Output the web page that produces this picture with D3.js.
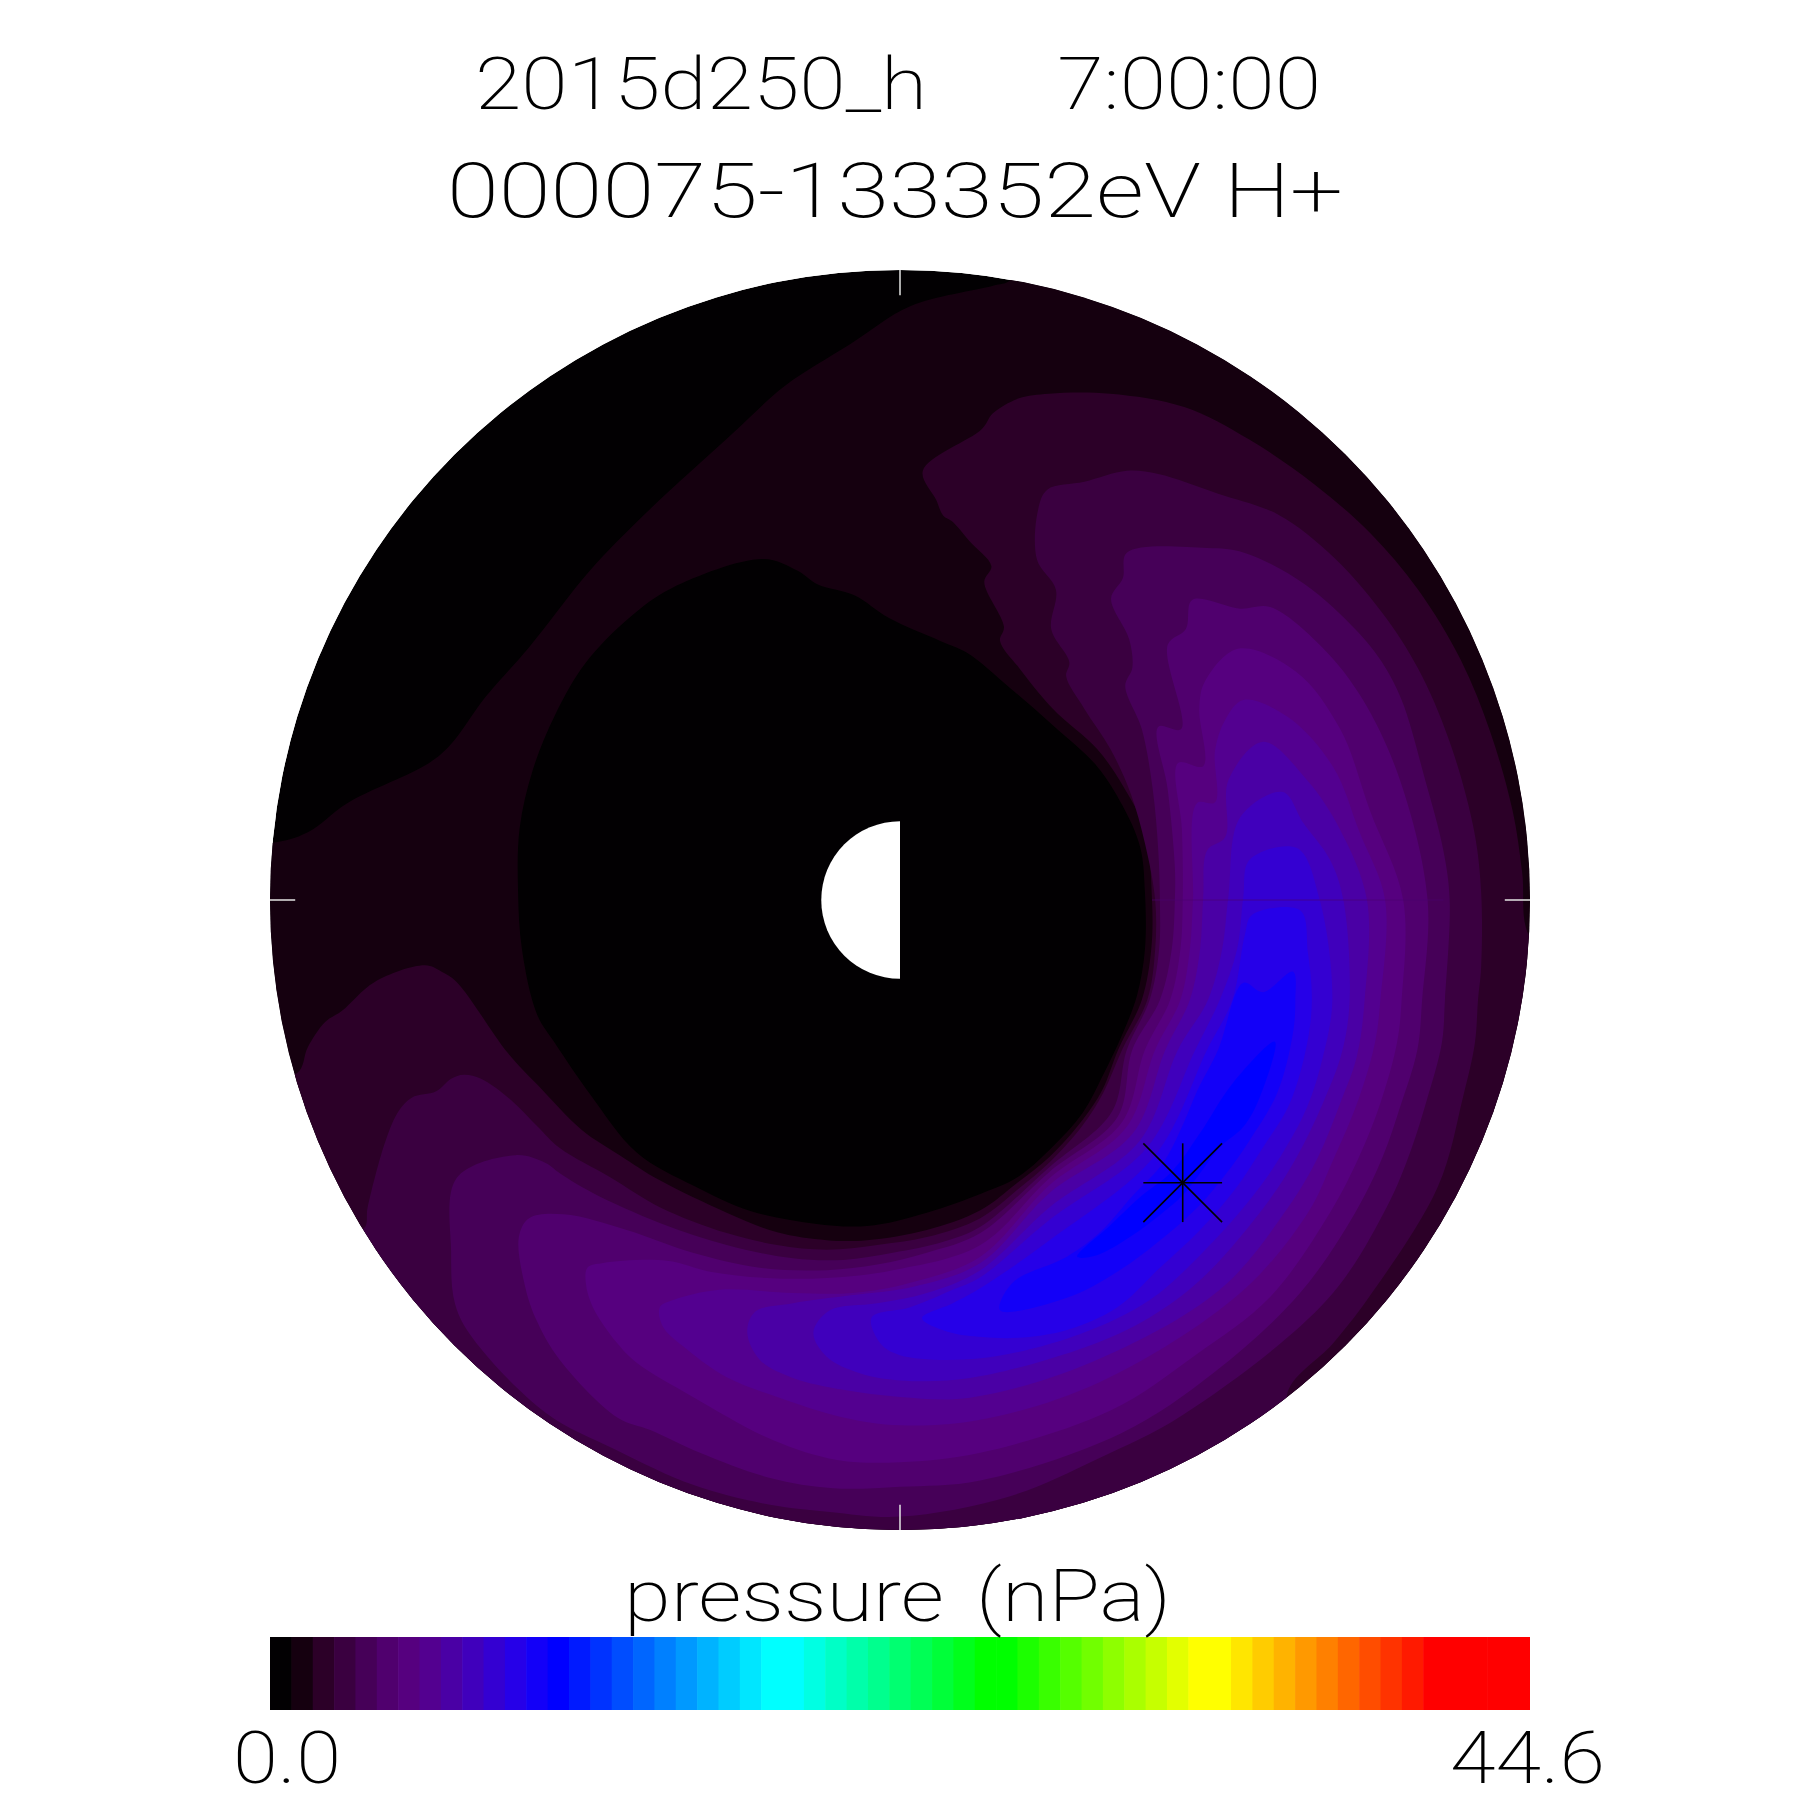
<!DOCTYPE html>
<html><head><meta charset="utf-8">
<script src="https://cdn.jsdelivr.net/npm/d3@7"></script>
<style>html,body{margin:0;padding:0;background:#fff}svg{display:block}text{white-space:pre;font-family:Roboto,"Liberation Sans",sans-serif;font-weight:200;fill:#000}</style>
</head><body><svg id="c" width="1800" height="1800"></svg>
<script>
// Chart text
const titleLine1 = "2015d250_h   7:00:00";
const titleLine2 = "000075-133352eV H+";
const barTitle = "pressure (nPa)";
const barMin = 0.0, barMax = 44.6, bandCount = 59;
// Colour table: band index and colour
const colourIndex = [0,1,2,3,4,5,6,7,8,9,10,11,12,13,23,24,33,34,43,44,54,58];
const colourValue = ["#020002","#15000f","#2c0028","#3a0040","#460058","#50006e","#56007f","#530090","#4a00a5","#4000bc","#3400d2","#2600e8","#1300f8","#0000ff","#00ffff","#00ffff","#00ff00","#00ff00","#ffff00","#ffff00","#ff0000","#ff0000"];
// Plot domain in Earth radii
const rMax = 8, earthRadius = 1;
const peakMarker = [3.59,-3.59], markerSize = 0.5;
// Pressure contours, [x, y] in Earth radii; the number is the colour band
const contour1 = [[-8.00,0.72],[-7.52,0.86],[-7.02,1.23],[-5.98,1.74],[-5.70,1.98],[-5.27,2.57],[-4.71,3.21],[-3.94,4.18],[-3.23,4.91],[-2.12,5.93],[-1.46,6.53],[-0.63,7.06],[0.13,7.54],[1.18,7.80],[1.40,7.87],[1.9,8.6],[10,10],[10,-10],[-10,-10],[-10,0.72]];
const contourCore = [[-1.74,4.33],[-1.30,4.18],[-1.05,4.01],[-0.58,3.87],[-0.14,3.58],[0.51,3.29],[0.85,3.14],[1.40,2.69],[1.94,2.22],[2.50,1.70],[2.83,1.19],[3.05,0.67],[3.11,0.10],[3.11,-0.63],[3.01,-1.21],[2.83,-1.69],[2.58,-2.22],[2.32,-2.70],[1.90,-3.17],[1.49,-3.52],[1.05,-3.72],[0.34,-3.97],[-0.42,-4.14],[-1.08,-4.11],[-1.90,-3.95],[-2.62,-3.63],[-3.34,-3.21],[-3.94,-2.46],[-4.38,-1.82],[-4.61,-1.45],[-4.80,-0.63],[-4.85,0.11],[-4.83,0.91],[-4.66,1.66],[-4.38,2.35],[-4.00,3.00],[-3.44,3.58],[-2.90,3.96]];
const contour2 = [[0.29,5.45],[1.04,5.98],[1.18,6.18],[1.51,6.37],[1.89,6.43],[2.67,6.43],[3.61,6.26],[4.43,5.85],[5.26,5.28],[5.97,4.66],[6.58,3.94],[7.12,3.05],[7.50,2.12],[7.78,1.13],[7.90,0.36],[7.99,-0.46],[8.6,-1.0],[10,-10],[-10,-10],[-8.6,-2.2],[-7.66,-2.20],[-7.52,-1.87],[-7.30,-1.55],[-7.09,-1.41],[-6.67,-1.04],[-6.03,-0.83],[-5.82,-0.91],[-5.63,-1.04],[-4.99,-1.93],[-4.60,-2.35],[-4.04,-2.92],[-3.56,-3.24],[-3.05,-3.56],[-2.20,-3.97],[-1.56,-4.22],[-0.93,-4.32],[-0.42,-4.32],[0.34,-4.19],[1.02,-3.94],[1.49,-3.59],[1.90,-3.26],[2.32,-2.79],[2.57,-2.41],[2.77,-1.90],[3.07,-1.27],[3.19,-0.63],[3.20,0],[3.11,0.88],[2.83,1.45],[2.50,1.92],[1.94,2.43],[1.51,2.95],[1.27,3.29],[1.32,3.47],[1.07,4.04],[1.16,4.24],[0.88,4.56],[0.66,4.81],[0.55,4.88],[0.46,5.08]];
const contour3 = [[1.87,5.21],[2.34,5.31],[2.88,5.45],[3.28,5.41],[4.04,5.16],[4.81,4.89],[5.52,4.34],[6.18,3.57],[6.63,2.84],[7.01,1.92],[7.29,0.88],[7.38,0.10],[7.38,-0.85],[7.34,-1.27],[7.30,-1.82],[7.15,-2.50],[6.83,-3.64],[5.93,-5.08],[5.50,-5.63],[4.91,-6.31],[5.5,-7.5],[4,-10],[-10,-10],[-7.5,-4.1],[-6.81,-4.17],[-6.76,-3.90],[-6.53,-3.05],[-6.36,-2.67],[-6.20,-2.51],[-5.89,-2.43],[-5.70,-2.27],[-5.54,-2.22],[-5.32,-2.27],[-4.94,-2.54],[-4.60,-2.88],[-4.32,-3.15],[-3.68,-3.52],[-3.05,-3.90],[-2.20,-4.23],[-1.56,-4.38],[-0.93,-4.44],[-0.29,-4.38],[0.34,-4.28],[1.02,-4.04],[1.49,-3.68],[1.90,-3.33],[2.32,-2.86],[2.58,-2.45],[2.82,-1.90],[3.14,-1.27],[3.24,-0.63],[3.24,0],[3.11,0.72],[2.93,1.35],[2.67,1.92],[2.34,2.43],[2.11,2.84],[2.15,3.02],[1.92,3.44],[1.98,3.94],[1.74,4.32],[1.75,4.94]];
const contour4 = [[2.88,4.41],[3.90,4.47],[4.37,4.41],[5.14,4.01],[5.80,3.42],[6.10,3.05],[6.37,2.54],[6.67,1.52],[6.90,0.63],[6.98,0],[6.92,-1.27],[6.88,-1.82],[6.69,-2.54],[6.49,-3.17],[6.18,-3.90],[5.42,-5.08],[3.59,-6.54],[2.50,-7.10],[1.40,-7.57],[0,-7.83],[-0.89,-7.77],[-1.65,-7.68],[-2.62,-7.43],[-3.61,-6.98],[-4.50,-6.51],[-5.43,-5.56],[-5.65,-5.13],[-5.70,-4.48],[-5.63,-3.53],[-4.88,-3.24],[-4.50,-3.34],[-4.32,-3.47],[-3.90,-3.72],[-3.05,-4.10],[-2.20,-4.38],[-1.36,-4.55],[-0.72,-4.57],[-0.09,-4.48],[0.55,-4.34],[1.02,-4.15],[1.90,-3.39],[2.69,-2.69],[2.88,-1.90],[3.17,-1.27],[3.29,-0.63],[3.30,0],[3.28,0.62],[3.21,1.40],[3.07,2.17],[2.86,2.72],[2.95,2.95],[2.91,3.31],[2.68,3.83],[2.83,4.09]];
const contour5 = [[3.71,3.81],[4.32,3.70],[4.70,3.72],[5.36,3.21],[5.88,2.54],[6.35,1.52],[6.70,0],[6.63,-1.27],[6.57,-1.90],[6.35,-2.63],[6.13,-3.26],[5.78,-3.97],[5.08,-4.99],[4.00,-5.99],[2.81,-6.77],[1.02,-7.37],[0,-7.45],[-0.85,-7.47],[-1.65,-7.34],[-2.54,-7.02],[-3.17,-6.73],[-3.59,-6.57],[-4.32,-5.84],[-4.61,-5.35],[-4.76,-4.91],[-4.84,-4.28],[-4.71,-4.04],[-4.27,-3.99],[-3.47,-4.19],[-2.63,-4.48],[-1.78,-4.67],[-0.93,-4.70],[-0.29,-4.63],[0.34,-4.48],[1.02,-4.23],[1.90,-3.45],[2.76,-2.76],[2.95,-1.90],[3.30,-1.27],[3.45,-0.63],[3.49,0],[3.49,0.42],[3.40,1.40],[3.28,2.20],[3.57,2.17],[3.40,3.24],[3.63,3.44]];
const contour6 = [[4.29,3.19],[5.03,2.90],[5.59,2.17],[5.97,1.13],[6.39,0],[6.37,-1.27],[6.31,-1.82],[6.10,-2.58],[5.83,-3.26],[5.46,-3.97],[4.70,-5.04],[3.75,-5.78],[2.68,-6.48],[1.02,-7.02],[0,-7.14],[-0.80,-7.11],[-1.61,-6.86],[-2.63,-6.31],[-3.34,-5.88],[-3.59,-5.63],[-3.90,-5.17],[-3.99,-4.86],[-3.97,-4.67],[-3.77,-4.61],[-2.96,-4.58],[-2.41,-4.72],[-1.69,-4.80],[-0.93,-4.80],[-0.09,-4.70],[1.02,-4.38],[1.90,-3.53],[2.82,-2.82],[3.11,-1.90],[3.43,-1.27],[3.56,-0.63],[3.59,0],[3.58,0.89],[3.53,1.74],[3.85,1.70],[3.80,2.43],[3.87,2.77]];
const contour7 = [[4.36,2.54],[4.93,2.32],[5.50,1.69],[5.84,0.85],[6.16,0],[6.10,-1.27],[6.03,-1.82],[5.82,-2.54],[5.50,-3.30],[5.18,-3.97],[4.32,-4.99],[2.54,-6.12],[1.02,-6.60],[0,-6.67],[-0.72,-6.57],[-1.56,-6.31],[-2.20,-6.06],[-2.70,-5.71],[-3.01,-5.42],[-3.05,-5.17],[-2.88,-5.08],[-2.29,-4.95],[-1.36,-4.99],[-0.60,-4.99],[0.13,-4.86],[1.02,-4.53],[1.90,-3.62],[2.88,-2.88],[3.24,-1.90],[3.56,-1.27],[3.68,-0.63],[3.72,0],[3.77,1.23],[4.00,1.24],[4.00,1.90],[4.13,2.29]];
const contour8 = [[4.61,2.01],[5.17,1.52],[5.59,0.89],[5.93,0],[5.90,-1.27],[5.80,-1.99],[5.59,-2.58],[5.31,-3.26],[4.93,-3.90],[4.06,-4.95],[2.43,-5.87],[0.89,-6.32],[0,-6.31],[-0.72,-6.22],[-1.36,-6.07],[-1.78,-5.84],[-1.94,-5.49],[-1.84,-5.23],[-1.36,-5.12],[-0.63,-5.02],[0.17,-4.91],[1.02,-4.61],[1.90,-3.72],[2.96,-2.96],[3.37,-1.90],[3.68,-1.27],[3.81,-0.63],[3.85,0.04],[3.90,0.63],[4.13,0.80],[4.17,1.52]];
const contour9 = [[4.86,1.37],[5.12,0.98],[5.46,0.51],[5.63,0],[5.71,-1.27],[5.61,-1.94],[5.37,-2.58],[5.04,-3.26],[4.66,-3.85],[3.85,-4.79],[3.17,-5.30],[2.35,-5.68],[0.89,-6.07],[0,-6.10],[-0.51,-6.01],[-0.93,-5.80],[-1.10,-5.49],[-0.89,-5.21],[-0.29,-5.12],[0.34,-4.99],[1.02,-4.70],[1.90,-3.90],[3.05,-3.05],[3.53,-1.90],[3.91,-1.27],[4.09,-0.63],[4.17,0.04],[4.32,1.05]];
const contour10 = [[5.04,0.66],[5.33,0],[5.49,-1.27],[5.37,-1.99],[5.17,-2.63],[4.83,-3.26],[4.44,-3.81],[3.81,-4.51],[3.17,-5.08],[2.29,-5.51],[1.02,-5.82],[0,-5.78],[-0.25,-5.63],[-0.36,-5.30],[0.13,-5.17],[0.67,-4.95],[1.02,-4.79],[1.90,-4.06],[3.14,-3.14],[3.75,-1.90],[4.06,-1.27],[4.28,-0.63],[4.36,0.04],[4.44,0.51]];
const contour11 = [[5.08,-0.13],[5.18,-0.67],[5.23,-1.27],[5.17,-1.82],[4.95,-2.58],[4.61,-3.14],[4.25,-3.68],[3.81,-4.19],[3.30,-4.67],[2.76,-5.17],[2.12,-5.46],[1.49,-5.56],[1.05,-5.55],[0.63,-5.49],[0.28,-5.31],[0.67,-5.12],[1.05,-4.91],[1.90,-4.32],[3.24,-3.24],[3.90,-1.90],[4.22,-1.27],[4.38,-0.44],[4.47,-0.19]];
const contour12 = [[4.36,-1.05],[4.61,-1.17],[4.99,-0.91],[5.02,-1.27],[4.99,-1.69],[4.79,-2.45],[4.44,-3.05],[4.13,-3.49],[3.81,-3.87],[3.39,-4.25],[2.76,-4.72],[2.12,-5.05],[1.27,-5.21],[1.43,-4.86],[2.12,-4.53],[2.54,-4.22],[2.96,-3.75],[3.34,-3.34],[3.59,-2.86],[3.78,-2.41],[4.04,-1.90]];
const contour13 = [[4.76,-1.80],[4.57,-2.50],[4.36,-2.88],[4.06,-3.14],[3.81,-3.47],[3.59,-3.75],[3.30,-4.00],[2.92,-4.28],[2.50,-4.51],[2.25,-4.53],[2.67,-4.13],[3.05,-3.77],[3.45,-3.45],[3.81,-2.96],[4.23,-2.32]];
const contourOrder = [[1,contour1],[0,contourCore],[2,contour2],[3,contour3],[4,contour4],[5,contour5],[6,contour6],[7,contour7],[8,contour8],[9,contour9],[10,contour10],[11,contour11],[12,contour12],[13,contour13]];

const svg = d3.select("#c");
const plot = {cx:900, cy:900, r:630};
const x = d3.scaleLinear().domain([-rMax,rMax]).range([plot.cx-plot.r, plot.cx+plot.r]);
const y = d3.scaleLinear().domain([-rMax,rMax]).range([plot.cy+plot.r, plot.cy-plot.r]);
const colour = d3.scaleLinear().domain(colourIndex).range(colourValue).interpolate(d3.interpolateRgb);

svg.append("defs").append("clipPath").attr("id","disc").append("circle")
  .attr("cx",x(0)).attr("cy",y(0)).attr("r",x(rMax)-x(0));
const disc = svg.append("g").attr("clip-path","url(#disc)");
disc.append("circle").attr("cx",x(0)).attr("cy",y(0)).attr("r",x(rMax)-x(0)).attr("fill",colour(0));
const contourLine = d3.line().x(d=>x(d[0])).y(d=>y(d[1])).curve(d3.curveCatmullRomClosed.alpha(0.5));
disc.selectAll("path.level").data(contourOrder).join("path").attr("class","level")
  .attr("d",d=>contourLine(d[1])).attr("fill",d=>colour(d[0]));
// faint seam along the noon-midnight grid join
disc.append("line").attr("x1",x(3.2)).attr("x2",x(6.9)).attr("y1",y(0)).attr("y2",y(0))
  .attr("stroke","#4a0070").attr("stroke-opacity",0.6).attr("stroke-width",1);

// Earth: lit half white
const earthR = x(earthRadius)-x(0);
svg.append("path").attr("transform",`translate(${x(0)},${y(0)})`)
  .attr("d",d3.arc()({innerRadius:0,outerRadius:earthR,startAngle:Math.PI,endAngle:2*Math.PI})).attr("fill","#fff");

// Ticks on the rim
const tickLen = 0.32;
[[-rMax,0,-rMax+tickLen,0],[rMax,0,rMax-tickLen,0],[0,rMax,0,rMax-tickLen],[0,-rMax,0,-rMax+tickLen]].forEach(t=>{
  svg.append("line").attr("x1",x(t[0])).attr("y1",y(t[1])).attr("x2",x(t[2])).attr("y2",y(t[3]))
    .attr("stroke","#e4e4e4").attr("stroke-width",1.5);
});
// Peak marker
const ms = markerSize;
[[-ms,0,ms,0],[0,-ms,0,ms],[-ms,-ms,ms,ms],[-ms,ms,ms,-ms]].forEach(a=>{
  svg.append("line").attr("x1",x(peakMarker[0]+a[0])).attr("y1",y(peakMarker[1]+a[1]))
    .attr("x2",x(peakMarker[0]+a[2])).attr("y2",y(peakMarker[1]+a[3]))
    .attr("stroke","#000").attr("stroke-width",1.6);
});

// Colour bar
const bands = d3.range(bandCount);
const barX = d3.scaleBand().domain(bands).range([270,1530]);
svg.selectAll("rect.band").data(bands).join("rect").attr("class","band")
  .attr("x",d=>barX(d)).attr("y",1637).attr("width",d=>barX.bandwidth()+(d<bandCount-1?0.6:0)).attr("height",73)
  .attr("fill",d=>colour(d));

// Text
function label(str,x0,base,len,size,wordGap){
  svg.append("text").attr("x",x0).attr("y",base).attr("font-size",size)
    .style("word-spacing",(wordGap||0)+"px")
    .attr("textLength",len).attr("lengthAdjust","spacingAndGlyphs").text(str);
}
label(titleLine1,475,109,846,73,20);
label(titleLine2,447,217,896,76,0);
label(barTitle,624,1621,547,72,10);
label(barMin.toFixed(1),233,1783,108,72);
label(barMax.toFixed(1),1450,1783,155,72);
</script></body></html>
